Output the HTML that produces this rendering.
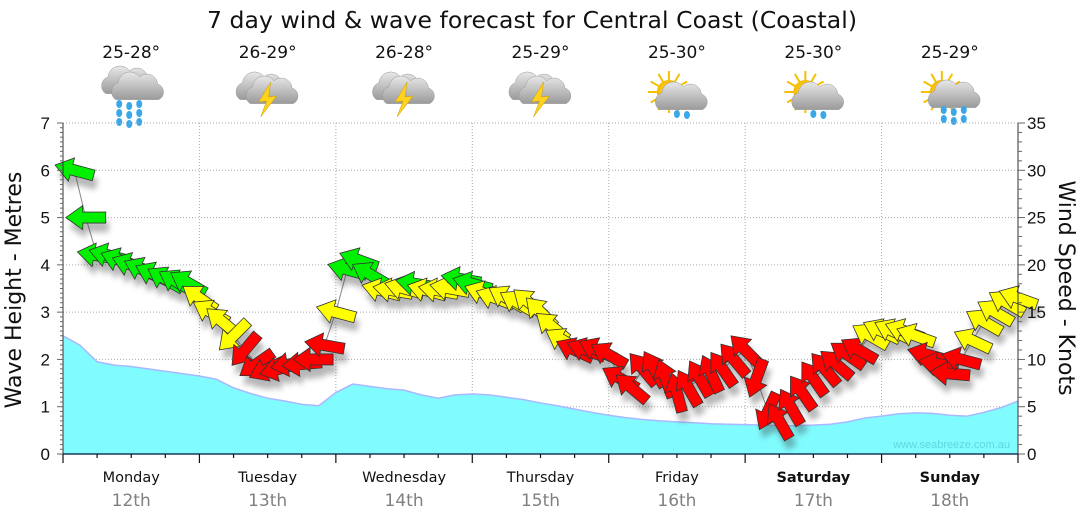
<!DOCTYPE html>
<html><head><meta charset="utf-8"><style>
body{margin:0;background:#fff;}
svg{display:block;font-family:"Liberation Sans",sans-serif;}
</style></head><body>
<svg id="c" width="1080" height="522" viewBox="0 0 1080 522">
<defs>
<radialGradient id="sun" cx="50%" cy="50%" r="50%"><stop offset="0" stop-color="#ffe640"/><stop offset="1" stop-color="#f5b800"/></radialGradient>
<linearGradient id="cloud" x1="0" y1="0" x2="0" y2="1"><stop offset="0" stop-color="#e8e8e8"/><stop offset="1" stop-color="#9a9a9a"/></linearGradient>
<filter id="sh" x="-20%" y="-20%" width="140%" height="160%"><feGaussianBlur stdDeviation="3"/></filter>
</defs>
<text x="532" y="28" text-anchor="middle" font-size="23.5" fill="#111" font-family="DejaVu Sans,sans-serif" textLength="650">7 day wind &amp; wave forecast for Central Coast (Coastal)</text>
<g id="top"></g>
<g id="grid"></g>
<g id="wave"></g>
<g id="wind"></g>
<g id="axes"></g>
<text x="1010" y="448" text-anchor="end" font-size="11" fill="#5fd8e0">www.seabreeze.com.au</text>
<text transform="translate(21,290) rotate(-90)" text-anchor="middle" font-size="22" fill="#111" font-family="DejaVu Sans,sans-serif">Wave Height - Metres</text>
<text transform="translate(1059,288) rotate(90)" text-anchor="middle" font-size="22" fill="#111" font-family="DejaVu Sans,sans-serif">Wind Speed - Knots</text>
</svg>
<script>
const days=["Monday","Tuesday","Wednesday","Thursday","Friday","Saturday","Sunday"];
const dates=["12th","13th","14th","15th","16th","17th","18th"];
const temps=["25-28°","26-29°","26-28°","25-29°","25-30°","25-30°","25-29°"];
const icons=["rain","storm","storm","storm","sunshower","sunshower","sunrain"];
const waveTicks=[0,1,2,3,4,5,6,7];
const windTicks=[0,5,10,15,20,25,30,35];
// wave height (m) every 3 hours
const waveHeight=[2.5,2.3,1.95,1.88,1.85,1.8,1.75,1.7,1.65,1.58,1.4,1.28,1.18,1.12,1.05,1.02,1.3,1.48,1.43,1.38,1.35,1.25,1.18,1.25,1.27,1.25,1.2,1.15,1.08,1.02,0.95,0.88,0.82,0.77,0.73,0.7,0.68,0.66,0.64,0.63,0.62,0.61,0.6,0.6,0.61,0.63,0.68,0.76,0.8,0.85,0.87,0.86,0.82,0.8,0.88,0.98,1.12];
// wind speed (kt) every 2 hours
const windSpeed=[30,25,21,21,20.5,20,19.5,19,18.5,18.2,18.1,16.5,
15,14,12.5,11,9.5,9,9,9.5,9.5,10,11.5,15,
19.5,20.5,19,17.3,17.3,17.5,18,17.3,17.3,17.5,18.5,18,
17,16.5,16.5,16,16,15,13.5,12,11,11,11,10.5,
8,7,9,9,8,6.5,7,8,8.5,9,10,11,
8,4.5,3.5,5,6.5,8,9,9.5,10.5,11,12.5,13,
13,13,12.5,10.5,9.5,8.5,10,12,14,15,16,16.5];
// arrow pointing direction (screen degrees, 0=right, ccw)
const windDir=[165,180,170,165,160,160,155,155,150,150,150,145,
150,140,225,230,215,205,195,190,185,180,170,165,
165,160,150,165,170,165,170,165,170,170,170,165,
160,160,150,150,140,135,140,150,155,160,155,150,
150,140,130,120,110,105,120,120,115,125,130,135,
250,245,120,120,125,125,130,140,145,150,150,155,
155,160,160,165,170,175,165,155,150,150,150,160];

const NS="http://www.w3.org/2000/svg";
const X0=63,X1=1018,Y0=454,Y1=123,H=168;
const xT=h=>X0+h/H*(X1-X0);
const yW=m=>Y0-m/7*(Y0-Y1);
const yK=k=>Y0-k/35*(Y0-Y1);
function mk(tag,attrs,parent){const e=document.createElementNS(NS,tag);for(const k in attrs)e.setAttribute(k,attrs[k]);parent.appendChild(e);return e;}
const G=id=>document.getElementById(id);

const grid=G('grid');
waveTicks.forEach(v=>{if(v>0){const l=mk('line',{x1:X0,x2:X1,y1:yW(v),y2:yW(v),stroke:'#aaa','stroke-dasharray':'1,2'},grid);

}});
for(let d=1;d<7;d++){const l=mk('line',{x1:xT(d*24),x2:xT(d*24),y1:Y1,y2:Y0,stroke:'#aaa','stroke-dasharray':'1,2'},grid);

}

const wg=G('wave');
let pts=waveHeight.map((v,i)=>xT(i*3)+','+yW(v));
const area=mk('path',{d:'M'+X0+','+Y0+' L'+pts.join(' L')+' L'+X1+','+Y0+' Z',fill:'#80fcff'},wg);


const wl=mk('polyline',{points:pts.join(' '),fill:'none',stroke:'#a9b8ff','stroke-width':1.5},wg);



const wd=G('wind');
const wp=windSpeed.map((v,i)=>xT(i*2+2)+','+yK(v));
const cl=mk('polyline',{points:wp.join(' '),fill:'none',stroke:'#888','stroke-width':1},wd);


const arrowD='M-20,-5.5 L3,-5.5 L3,-12 L20,0 L3,12 L3,5.5 L-20,5.5 Z';
const sg=mk('g',{filter:'url(#sh)',opacity:0.35},wd);
windSpeed.forEach((v,i)=>{const x=xT(i*2+2),y=yK(v);
 mk('path',{d:arrowD,fill:'#333',transform:`translate(${x+3},${y+9}) rotate(${-windDir[i]})`},sg);});
windSpeed.forEach((v,i)=>{const x=xT(i*2+2),y=yK(v);
 const col=v>=18?'#00f000':(v>=12?'#ffff00':'#ff0000');
 const a=mk('path',{d:arrowD,fill:col,stroke:'#333','stroke-width':0.8,transform:`translate(${x},${y}) rotate(${-windDir[i]})`},wd);
 
 });

const ax=G('axes');
mk('line',{x1:X0,x2:X1,y1:Y0,y2:Y0,stroke:'#1a3a5a','stroke-width':1.5},ax);
mk('line',{x1:X0,x2:X0,y1:Y1,y2:Y0,stroke:'#333'},ax);
mk('line',{x1:X1,x2:X1,y1:Y1,y2:Y0,stroke:'#333'},ax);
for(let m=0;m<=70;m++){const y=yW(m/10);mk('line',{x1:X0-(m%10?3:6),x2:X0,y1:y,y2:y,stroke:'#666'},ax);}
for(let k=0;k<=35;k++){const y=yK(k);mk('line',{x1:X1,x2:X1+(k%5?4:7),y1:y,y2:y,stroke:'#666'},ax);}
waveTicks.forEach(v=>{const t=mk('text',{x:50,y:yW(v)+6,'text-anchor':'end','font-size':17,fill:'#111'},ax);t.textContent=v;

});
windTicks.forEach(v=>{const t=mk('text',{x:1027,y:yK(v)+6,'font-size':17,fill:'#111'},ax);t.textContent=v;

});
for(let h=0;h<=168;h+=6){const x=xT(h);mk('line',{x1:x,x2:x,y1:Y0,y2:Y0+(h%24?4:9),stroke:'#111','stroke-width':1.2},ax);}
days.forEach((d,i)=>{const cx=xT(i*24+12);const wk=i>=5;
 const t=mk('text',{x:cx,y:482,'text-anchor':'middle','font-size':14.5,fill:'#111','font-weight':wk?'bold':'normal','font-family':'DejaVu Sans,sans-serif'},ax);t.textContent=d;
 
 
 const t2=mk('text',{x:cx,y:506,'text-anchor':'middle','font-size':17,fill:'#808080','font-family':'DejaVu Sans,sans-serif'},ax);t2.textContent=dates[i];
 
 });

const tp=G('top');
function cloud(g,x,y,s){mk('path',{d:`M${x-18*s},${y+8*s} a${8*s},${8*s} 0 0 1 ${2*s},${-14*s} a${10*s},${10*s} 0 0 1 ${18*s},${-5*s} a${9*s},${9*s} 0 0 1 ${15*s},${6*s} a${7*s},${7*s} 0 0 1 ${1*s},${13*s} Z`,fill:'url(#cloud)',stroke:'#999','stroke-width':0.5},g);}
function drops(g,x,y,n){for(let i=0;i<n;i++){const dx=(i%3)*10,dy=Math.floor(i/3)*9+(i%3===1?2:0);mk('ellipse',{cx:x+dx,cy:y+dy,rx:3,ry:4,fill:'#3aa8e8'},g);}}
temps.forEach((t,i)=>{const cx=xT(i*24+12);
 const tt=mk('text',{x:cx,y:58,'text-anchor':'middle','font-size':17,fill:'#111','font-family':'DejaVu Sans,sans-serif'},tp);tt.textContent=t;
 
 
 const g=mk('g',{},tp);
 
 
 const k=icons[i];
 if(k.startsWith('sun')){for(let r=0;r<12;r++){const a=r*Math.PI/6;mk('line',{x1:cx-8+Math.cos(a)*11,y1:92+Math.sin(a)*11,x2:cx-8+Math.cos(a)*21,y2:92+Math.sin(a)*21,stroke:'#f5c000','stroke-width':2},g);}
  mk('circle',{cx:cx-8,cy:92,r:12,fill:'url(#sun)'},g);}
 if(k==='rain'){cloud(g,cx-4,84,1.2);cloud(g,cx+6,90,1.2);drops(g,cx-12,104,9);}
 if(k==='storm'){cloud(g,cx-6,90,1.2);cloud(g,cx+4,94,1.2);mk('path',{d:`M${cx+3},${82} L${cx-9},${102} L${cx-1},${101} L${cx-7},${117} L${cx+9},${96} L${cx+1},${97} Z`,fill:'#ffd21e',stroke:'#c89a00','stroke-width':0.5},g);}
 if(k==='sunshower'){cloud(g,cx+4,100,1.2);drops(g,cx,114,1);drops(g,cx+10,115,1);}
 if(k==='sunrain'){cloud(g,cx+4,98,1.2);drops(g,cx-6,110,6);}
});
</script>
</body></html>
